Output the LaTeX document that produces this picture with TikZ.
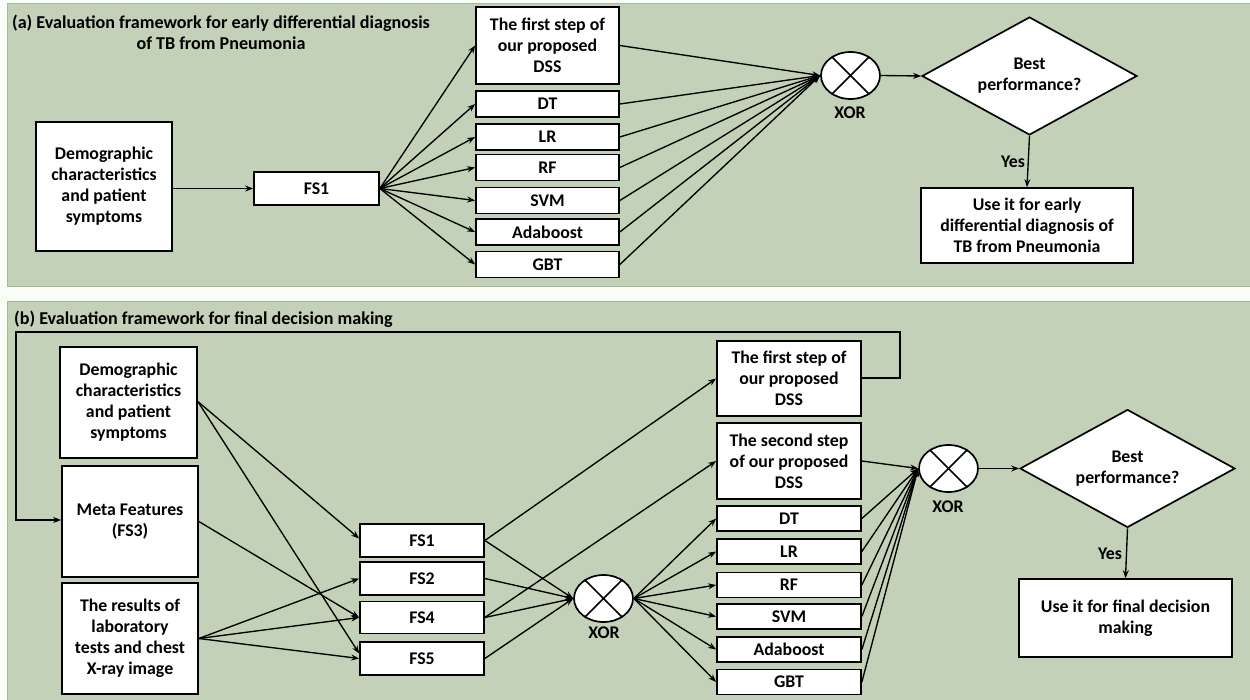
\documentclass[tikz,border=0pt]{standalone}
\usepackage{fontspec}
\setmainfont{Carlito}
\usetikzlibrary{shapes.geometric,arrows.meta}
\definecolor{panelgreen}{RGB}{195,209,184}
\definecolor{paneledge}{RGB}{165,185,150}
\definecolor{pagebg}{RGB}{250,252,247}
\begin{document}
\begin{tikzpicture}[x=1pt,y=-1pt,
  font=\fontsize{17.8}{21}\selectfont\bfseries,
  box/.style={draw, fill=white, line width=1.7pt, inner sep=0pt, align=center},
  wide/.style={box, minimum width=143pt, minimum height=26pt},
  arr/.style={-{Stealth[length=8pt,width=6pt]}, line width=1.35pt},
  xorsh/.style={ellipse, draw, fill=white, line width=1.7pt, minimum width=59pt, minimum height=47pt, inner sep=0pt},
  dec/.style={diamond, draw, fill=white, line width=1.7pt, minimum width=215pt, minimum height=118pt, inner sep=0pt, aspect=1.82, align=center},
  lbl/.style={inner sep=0pt, align=center},
  ttl/.style={inner sep=0pt, align=center, font=\fontsize{18.1}{21}\selectfont\bfseries}]
\useasboundingbox (0,0) rectangle (1250,700);
\fill[pagebg] (0,0) rectangle (1250,700);
\filldraw[fill=panelgreen, draw=paneledge, line width=1pt] (7,4) rectangle (1250,287);
\filldraw[fill=panelgreen, draw=paneledge, line width=1pt] (7,302) rectangle (1250,700);

% ---------- panel (a)
\node[ttl] (titleA) at (221,32) {(a) Evaluation framework for early differential diagnosis\\of TB from Pneumonia};
\node[box, minimum width=136pt, minimum height=129pt] (demA) at (104,186.5) {Demographic\\characteristics\\and patient\\symptoms};
\node[box, minimum width=125pt, minimum height=33pt] (fs1A) at (316.5,188.5) {FS1};
\node[box, minimum width=143pt, minimum height=77pt] (stepA) at (547.5,45.5) {The first step of\\our proposed\\DSS};
\node[wide] (dtA) at (547.5,104) {DT};
\node[wide] (lrA) at (547.5,137) {LR};
\node[wide] (rfA) at (547.5,167.5) {RF};
\node[wide] (svmA) at (547.5,200.5) {SVM};
\node[wide] (adaA) at (547.5,232) {Adaboost};
\node[wide] (gbtA) at (547.5,264.5) {GBT};
\node[xorsh] (xorA) at (850.5,75.5) {};
\draw[line width=1.7pt] (xorA.45) -- (xorA.225) (xorA.135) -- (xorA.315);
\node[lbl] (xorAl) at (850,113) {XOR};
\node[dec] (diamA) at (1029.5,76) {Best\\performance?};
\node[box, minimum width=212pt, minimum height=75pt] (resA) at (1027,225.5) {Use it for early\\differential diagnosis of\\TB from Pneumonia};
\node[lbl] (yesA) at (1013,162) {Yes};

\draw[arr] (demA.east |- fs1A.west) -- (fs1A.west);
\foreach \t in {stepA,dtA,lrA,rfA,svmA,adaA,gbtA}{
  \draw[arr] (fs1A.east) -- (\t.west);
  \draw[arr] (\t.east) -- (xorA.west);
}
\draw[arr] (xorA.east) -- (diamA.west);
\draw[arr] (diamA.south) -- (resA.north);

% ---------- panel (b)
\node[ttl, anchor=west] (titleB) at (14,319) {(b) Evaluation framework for final decision making};
\node[box, minimum width=137pt, minimum height=111pt] (demB) at (128.5,402.5) {Demographic\\characteristics\\and patient\\symptoms};
\node[box, minimum width=136pt, minimum height=111pt] (metaB) at (130,521.5) {Meta Features\\(FS3)};
\node[box, minimum width=136pt, minimum height=111pt] (resB) at (130,638.5) {The results of\\laboratory\\tests and chest\\X-ray image};
\node[box, minimum width=124pt, minimum height=33pt] (fs1B) at (422,540.5) {FS1};
\node[box, minimum width=124pt, minimum height=33pt] (fs2B) at (422,578.5) {FS2};
\node[box, minimum width=124pt, minimum height=32pt] (fs4B) at (422,617.5) {FS4};
\node[box, minimum width=124pt, minimum height=33pt] (fs5B) at (422,658.5) {FS5};
\node[xorsh] (xorB) at (603.5,598.5) {};
\draw[line width=1.7pt] (xorB.45) -- (xorB.225) (xorB.135) -- (xorB.315);
\node[lbl] (xorBl) at (604,633) {XOR};
\node[box, minimum width=144pt, minimum height=75pt] (step1B) at (789,378.5) {The first step of\\our proposed\\DSS};
\node[box, minimum width=144pt, minimum height=76pt] (step2B) at (789,461) {The second step\\of our proposed\\DSS};
\node[wide, minimum width=144pt, minimum height=25pt] (dtB) at (789,518.5) {DT};
\node[wide, minimum width=144pt, minimum height=25pt] (lrB) at (789,551.5) {LR};
\node[wide, minimum width=144pt, minimum height=25pt] (rfB) at (789,585) {RF};
\node[wide, minimum width=144pt, minimum height=25pt] (svmB) at (789,616.5) {SVM};
\node[wide, minimum width=144pt, minimum height=25pt] (adaB) at (789,649.5) {Adaboost};
\node[wide, minimum width=144pt, minimum height=25pt] (gbtB) at (789,682) {GBT};
\node[xorsh] (xorB2) at (948.5,468.5) {};
\draw[line width=1.7pt] (xorB2.45) -- (xorB2.225) (xorB2.135) -- (xorB2.315);
\node[lbl] (xorB2l) at (948,507) {XOR};
\node[dec] (diamB) at (1127.5,468.5) {Best\\performance?};
\node[box, minimum width=213pt, minimum height=78pt] (resB2) at (1125.5,618) {Use it for final decision\\making};
\node[lbl] (yesB) at (1110,554) {Yes};

% feedback loop
\coordinate (fbA) at (900,378);
\coordinate (fbB) at (900,332);
\coordinate (fbC) at (16,332);
\coordinate (fbD) at (16,520);
\draw[arr] (step1B.east |- fbA) -- (fbA) -- (fbB) -- (fbC) -- (fbD) -- (metaB.west |- fbD);

% inputs to feature sets
\draw[arr] ([yshift=1pt]demB.east) -- ([yshift=2pt]fs1B.west);
\draw[arr] ([yshift=1pt]demB.east) -- ([yshift=5pt]fs5B.west);
\draw[arr] (metaB.east) -- (fs4B.west);
\draw[arr] (resB.east) -- (fs2B.west);
\draw[arr] (resB.east) -- (fs4B.west);
\draw[arr] (resB.east) -- (fs5B.west);

% feature sets
\draw[arr] (fs1B.east) -- (step1B.west);
\draw[arr] (fs4B.east) -- (step2B.west);
\foreach \s in {fs1B,fs2B,fs4B,fs5B}{
  \draw[arr] (\s.east) -- (xorB.west);
}
\foreach \t in {dtB,lrB,rfB,svmB,adaB,gbtB}{
  \draw[arr] (xorB.east) -- (\t.west);
  \draw[arr] (\t.east) -- (xorB2.west);
}
\draw[arr] (step2B.east) -- (xorB2.west);
\draw[arr] (xorB2.east) -- (diamB.west);
\draw[arr] (diamB.south) -- (resB2.north);
\end{tikzpicture}
\end{document}
